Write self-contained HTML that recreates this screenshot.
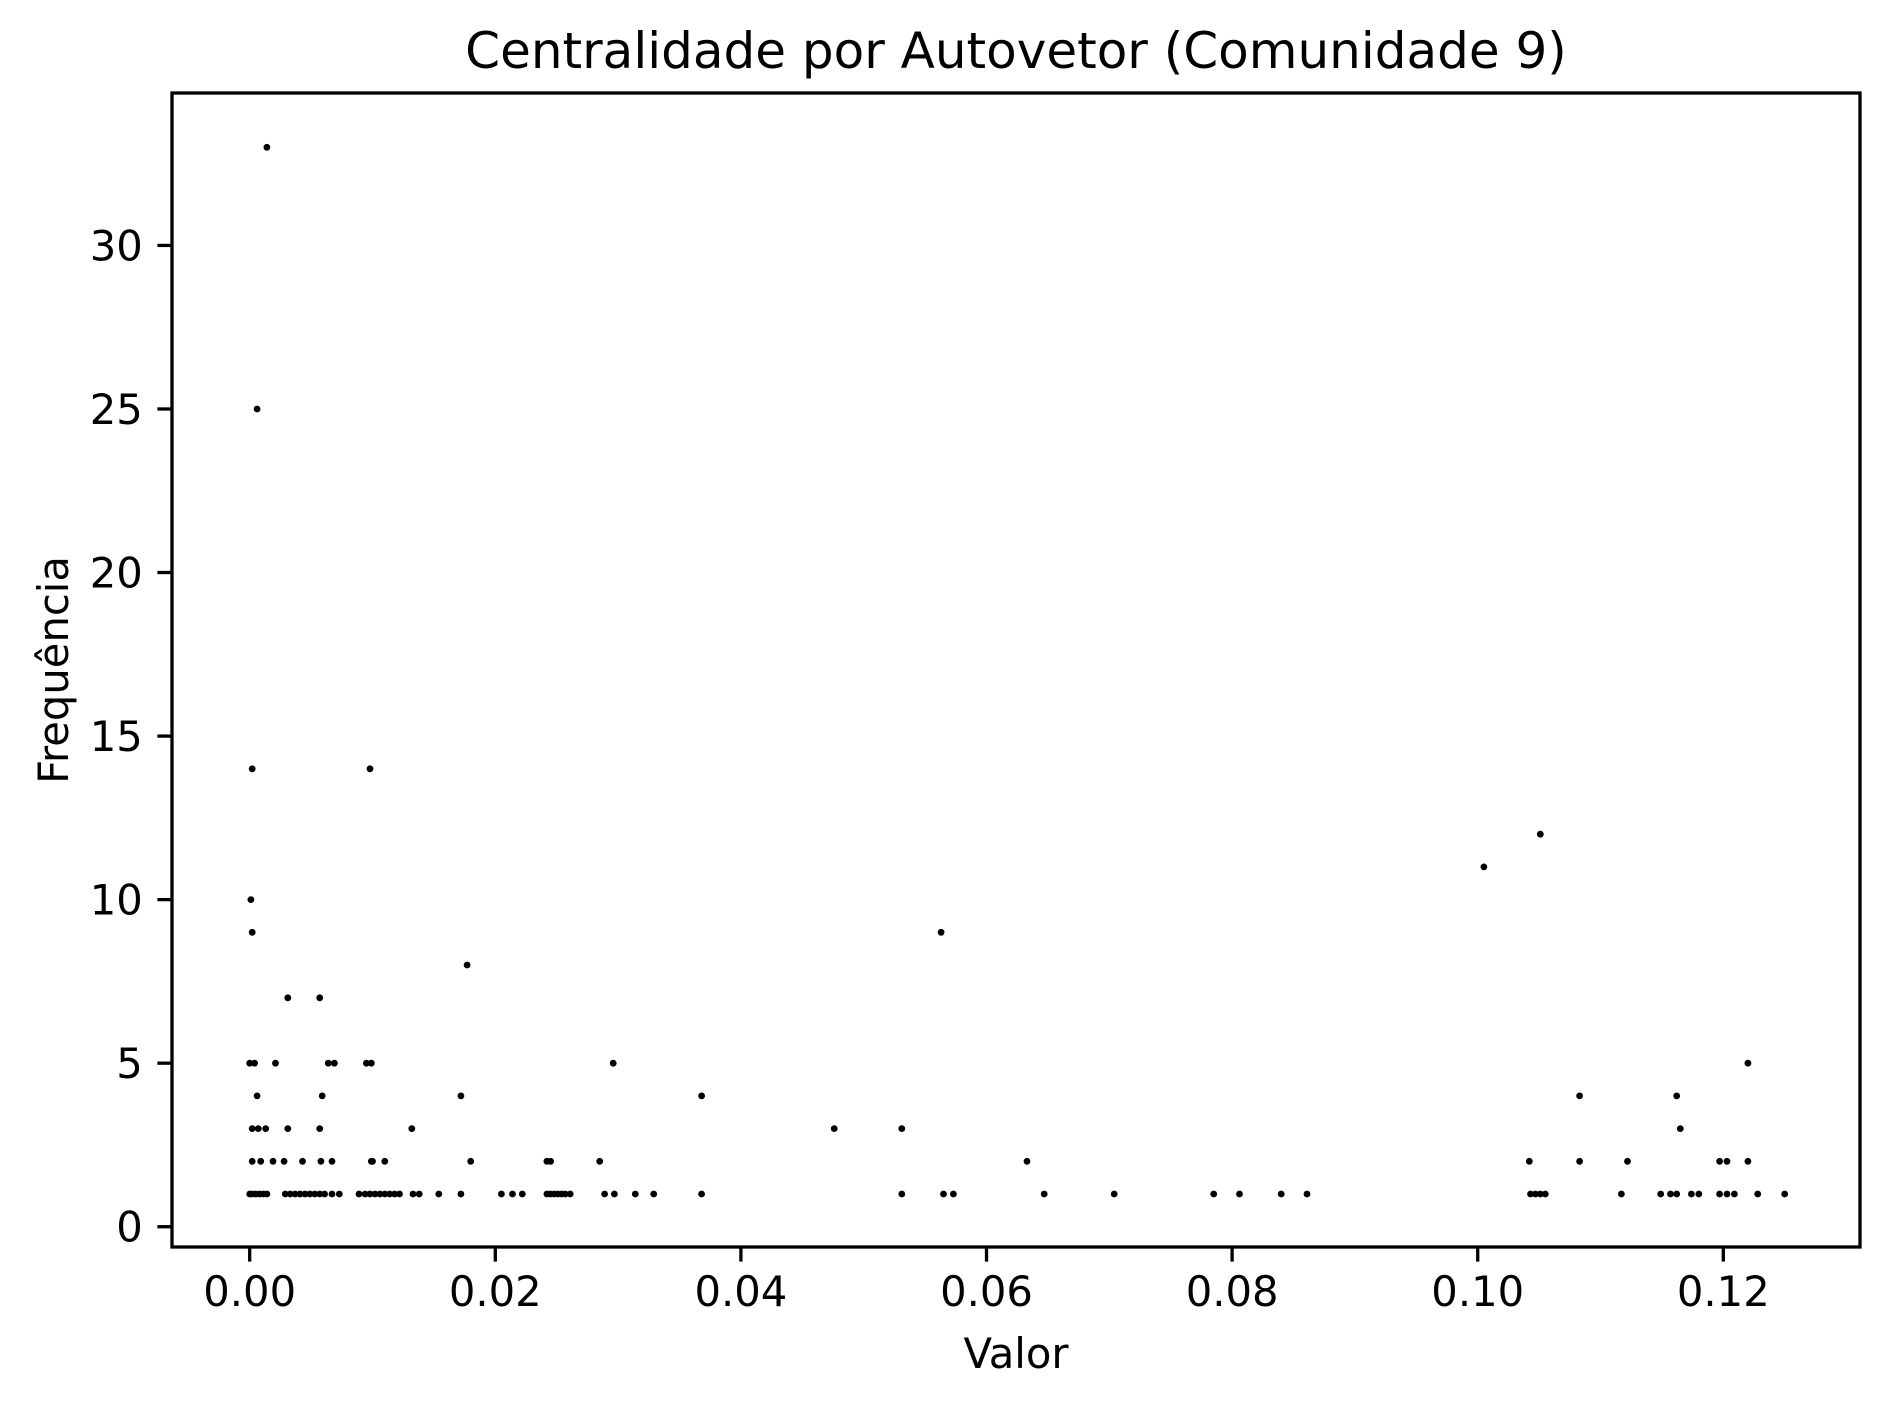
<!DOCTYPE html>
<html><head><meta charset="utf-8"><style>
html,body{margin:0;padding:0;background:#fff;}
svg{display:block;font-family:"DejaVu Sans","Liberation Sans",sans-serif;}
</style></head><body>
<svg id="chart" width="1890" height="1406" viewBox="0 0 1890 1406"></svg>
<script>
const freq1=[0.0000,0.0002,0.0005,0.0008,0.0011,0.0014,0.0029,0.0033,0.0037,0.0041,0.0045,0.0049,0.0053,0.0057,0.0061,0.0067,0.0073,0.0089,0.0094,0.0098,0.0102,0.0106,0.0110,0.0114,0.0118,0.0122,0.0133,0.0138,0.0154,0.0172,0.0205,0.0214,0.0222,0.0242,0.0245,0.0248,0.0251,0.0254,0.0257,0.0261,0.0289,0.0297,0.0314,0.0329,0.0368,0.0531,0.0565,0.0573,0.0647,0.0704,0.0785,0.0806,0.0840,0.0861,0.1043,0.1047,0.1051,0.1055,0.1117,0.1149,0.1157,0.1162,0.1174,0.1180,0.1197,0.1203,0.1209,0.1228,0.1250];
const freq2=[0.0002,0.0009,0.0019,0.0028,0.0043,0.0058,0.0067,0.0099,0.0100,0.0110,0.0180,0.0242,0.0245,0.0285,0.0633,0.1042,0.1083,0.1122,0.1197,0.1203,0.1220];
const freq3=[0.0002,0.0007,0.0013,0.0031,0.0057,0.0132,0.0476,0.0531,0.1165];
const freq4=[0.0006,0.0059,0.0172,0.0368,0.1083,0.1162];
const freq5=[0.0000,0.0004,0.0021,0.0064,0.0069,0.0095,0.0099,0.0296,0.1220];
const highValores=[0.0031,0.0057,0.0177,0.0002,0.0563,0.0001,0.1005,0.1051,0.0002,0.0098,0.0006,0.0014];
const highFreqs=[7,7,8,9,9,10,11,12,14,14,25,33];
const xTicks=[0,0.02,0.04,0.06,0.08,0.10,0.12];
const xTickLabels=["0.00","0.02","0.04","0.06","0.08","0.10","0.12"];
const yTicks=[0,5,10,15,20,25,30];
const yTickLabels=["0","5","10","15","20","25","30"];

const svg=document.getElementById('chart');
const NS='http://www.w3.org/2000/svg';
const L=172,R=1860,T=93,B=1247;
const X0=-0.006327,X1=0.13113,Y0=-0.62,Y1=34.66;
function sx(v){return L+(v-X0)/(X1-X0)*(R-L);}
function sy(v){return B-(v-Y0)/(Y1-Y0)*(B-T);}
function mk(tag,attrs,parent){const e=document.createElementNS(NS,tag);for(const k in attrs)e.setAttribute(k,attrs[k]);(parent||svg).appendChild(e);return e;}

const pts=[];
freq1.forEach(v=>pts.push([v,1]));
freq2.forEach(v=>pts.push([v,2]));
freq3.forEach(v=>pts.push([v,3]));
freq4.forEach(v=>pts.push([v,4]));
freq5.forEach(v=>pts.push([v,5]));
highValores.forEach((v,i)=>pts.push([v,highFreqs[i]]));

const g=mk('g',{});


pts.forEach(p=>{
  const c=mk('circle',{cx:sx(p[0]).toFixed(1),cy:sy(p[1]).toFixed(1),r:3.4,fill:'#000'},g);
  
  
});

const frame=mk('rect',{x:L,y:T,width:R-L,height:B-T,fill:'none',stroke:'#000','stroke-width':3.3});



xTicks.forEach((v,i)=>{
  const x=sx(v);
  const t=mk('line',{x1:x,y1:B,x2:x,y2:B+14.6,stroke:'#000','stroke-width':3.3});
  
  
  const tx=mk('text',{x:x,y:B+29+30,'font-size':41.7,'text-anchor':'middle',fill:'#000'});
  tx.textContent=xTickLabels[i];
  
  
});
yTicks.forEach((v,i)=>{
  const y=sy(v);
  const t=mk('line',{x1:L-14.6,y1:y,x2:L,y2:y,stroke:'#000','stroke-width':3.3});
  
  
  const tx=mk('text',{x:L-29.2,y:y+15,'font-size':41.7,'text-anchor':'end',fill:'#000'});
  tx.textContent=yTickLabels[i];
  
  
});

const title=mk('text',{x:(L+R)/2,y:68,'font-size':50,'text-anchor':'middle',fill:'#000'});
title.textContent='Centralidade por Autovetor (Comunidade 9)';



const xl=mk('text',{x:(L+R)/2,y:1368,'font-size':41.7,'text-anchor':'middle',fill:'#000'});
xl.textContent='Valor';



const yl=mk('text',{x:0,y:0,'font-size':41.7,'text-anchor':'middle',fill:'#000',transform:'translate(68,'+((T+B)/2)+') rotate(-90)'});
yl.textContent='Frequência';


</script>
</body></html>
